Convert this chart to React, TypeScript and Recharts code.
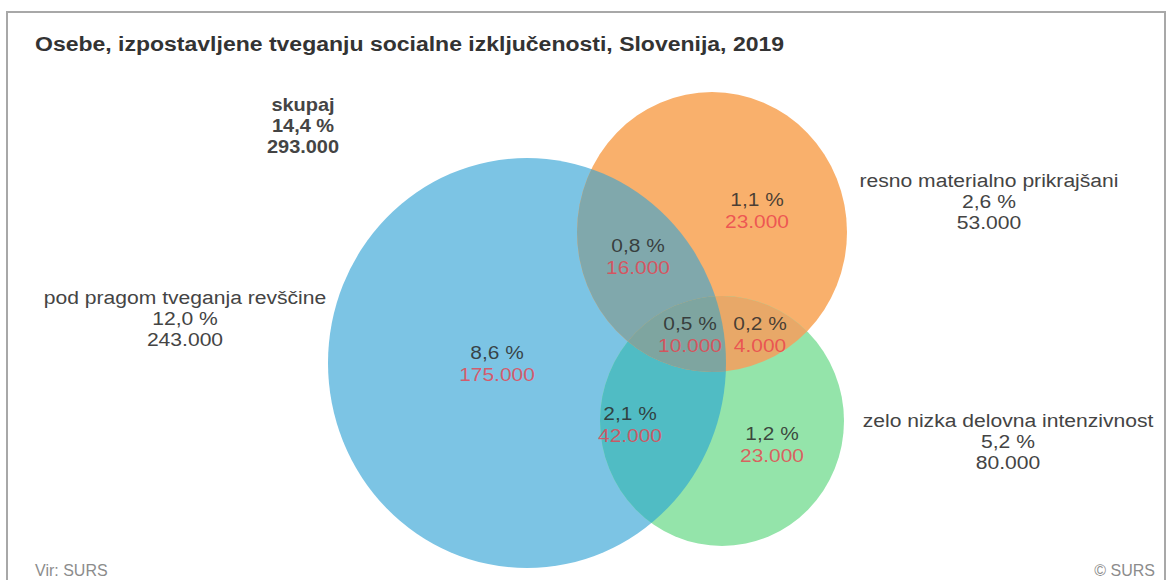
import React from 'react';
import { ScatterChart, Scatter, XAxis, YAxis, ReferenceArea } from 'recharts';

// ---- data ----
const setNames = ['pod pragom tveganja revščine', 'resno materialno prikrajšani', 'zelo nizka delovna intenzivnost'];
const setPercents = ['12,0 %', '2,6 %', '5,2 %'];
const setCounts = ['243.000', '53.000', '80.000'];
const totalLines = ['skupaj', '14,4 %', '293.000'];
const regionKeys = ['P', 'M', 'D', 'PM', 'PD', 'MD', 'PMD'];
const regionPercents = ['8,6 %', '1,1 %', '1,2 %', '0,8 %', '2,1 %', '0,2 %', '0,5 %'];
const regionCounts = ['175.000', '23.000', '23.000', '16.000', '42.000', '4.000', '10.000'];

// ---- diagram layout (diagram units) ----
const circleLayout = [
  { cx: 527, cy: 363, rx: 199, ry: 205 },
  { cx: 712, cy: 232, rx: 135, ry: 140 },
  { cx: 722, cy: 421, rx: 122, ry: 125 },
];
const regionLabelPos = [[497, 363], [757, 210], [772, 444], [638, 256], [630, 424], [760, 334], [690, 334]];
const setLabelPos = [[185, 318], [989, 201], [1008, 441]];
const totalLabelPos = [303, 125];

// ---- styles ----
const setColors = ['#7cc4e4', '#f9b06c', '#94e4aa'];
const overlapColors: Record<string, string> = { PM: '#80a8ac', PD: '#50bcc4', MD: '#e8a868', PMD: '#7ea5a0' };
const FONT = '"Liberation Sans", Arial, Helvetica, sans-serif';
const W = 1169;
const H = 580;

const ellipseFromBox = (p: any) => ({
  cx: p.x + p.width / 2,
  cy: p.y + p.height / 2,
  rx: Math.abs(p.width) / 2,
  ry: Math.abs(p.height) / 2,
});

const baseShape = (i: number) => (p: any) => {
  const e = ellipseFromBox(p);
  return (
    <g>
      <defs>
        <clipPath id={`venn-clip-${i}`}>
          <ellipse {...e} />
        </clipPath>
      </defs>
      <ellipse {...e} fill={setColors[i]} />
    </g>
  );
};

const overlapShape = (clips: number[], color: string) => (p: any) => {
  const e = ellipseFromBox(p);
  let node: any = <ellipse {...e} fill={color} clipPath={`url(#venn-clip-${clips[0]})`} />;
  for (let k = 1; k < clips.length; k++) {
    node = <g clipPath={`url(#venn-clip-${clips[k]})`}>{node}</g>;
  }
  return node;
};

const box = (i: number) => {
  const c = circleLayout[i];
  return { x1: c.cx - c.rx, x2: c.cx + c.rx, y1: c.cy - c.ry, y2: c.cy + c.ry };
};

const regionData = regionKeys.map((k, i) => ({
  x: regionLabelPos[i][0],
  y: regionLabelPos[i][1],
  pct: regionPercents[i],
  cnt: regionCounts[i],
}));

const setData = setNames.map((n, i) => ({
  x: setLabelPos[i][0],
  y: setLabelPos[i][1],
  lines: [n, setPercents[i], setCounts[i]],
  bold: false,
})).concat([{ x: totalLabelPos[0], y: totalLabelPos[1], lines: totalLines, bold: true }]);

const RegionLabel = (p: any) => {
  const { cx, cy, payload } = p;
  return (
    <g fontFamily={FONT} fontSize={19} textAnchor="middle" transform={`translate(${cx},${cy}) scale(1.1,1)`}>
      <text x={0} y={-11} dominantBaseline="central" fill="#2b2b2b" fillOpacity={0.85}>{payload.pct}</text>
      <text x={0} y={11} dominantBaseline="central" fill="#ea3f4c" fillOpacity={0.8}>{payload.cnt}</text>
    </g>
  );
};

const SetLabel = (p: any) => {
  const { cx, cy, payload } = p;
  const sx = payload.bold ? 1.05 : 1.11;
  return (
    <g fontFamily={FONT} fontSize={19} textAnchor="middle" fill="#444" fontWeight={payload.bold ? 'bold' : 'normal'}
      transform={`translate(${cx},${cy}) scale(${sx},1)`}>
      {payload.lines.map((l: string, j: number) => (
        <text key={j} x={0} y={(j - 1) * 21} dominantBaseline="central">{l}</text>
      ))}
    </g>
  );
};

export default function App() {
  return (
    <div style={{ position: 'absolute', left: 0, top: 0, width: W, height: H, background: '#fff', overflow: 'hidden', fontFamily: FONT }}>
      <div style={{ position: 'absolute', left: 6, top: 11, width: 1160, height: 640, border: '2px solid #a8a8a8', boxSizing: 'border-box' }} />
      <div style={{ position: 'absolute', left: 35, top: 32, lineHeight: '24px', fontSize: 20, fontWeight: 'bold', color: '#333', whiteSpace: 'nowrap', transform: 'scaleX(1.15)', transformOrigin: 'left center' }}>
        Osebe, izpostavljene tveganju socialne izključenosti, Slovenija, 2019
      </div>
      <div style={{ position: 'absolute', left: 0, top: 0 }}>
        <ScatterChart width={W} height={H} margin={{ top: 0, right: 0, bottom: 0, left: 0 }}>
          <XAxis type="number" dataKey="x" domain={[0, W]} hide allowDataOverflow />
          <YAxis type="number" dataKey="y" domain={[0, H]} reversed hide allowDataOverflow />
          <ReferenceArea {...box(0)} shape={baseShape(0)} ifOverflow="visible" />
          <ReferenceArea {...box(1)} shape={baseShape(1)} ifOverflow="visible" />
          <ReferenceArea {...box(2)} shape={baseShape(2)} ifOverflow="visible" />
          <ReferenceArea {...box(1)} shape={overlapShape([0], overlapColors.PM)} ifOverflow="visible" />
          <ReferenceArea {...box(2)} shape={overlapShape([0], overlapColors.PD)} ifOverflow="visible" />
          <ReferenceArea {...box(2)} shape={overlapShape([1], overlapColors.MD)} ifOverflow="visible" />
          <ReferenceArea {...box(2)} shape={overlapShape([1, 0], overlapColors.PMD)} ifOverflow="visible" />
          <Scatter data={regionData} shape={RegionLabel} isAnimationActive={false} />
          <Scatter data={setData} shape={SetLabel} isAnimationActive={false} />
        </ScatterChart>
      </div>
      <div style={{ position: 'absolute', left: 35, top: 562, lineHeight: '17px', fontSize: 16, color: '#8c8c8c' }}>Vir: SURS</div>
      <div style={{ position: 'absolute', right: 14, top: 562, lineHeight: '17px', fontSize: 16, color: '#8c8c8c' }}>© SURS</div>
    </div>
  );
}
